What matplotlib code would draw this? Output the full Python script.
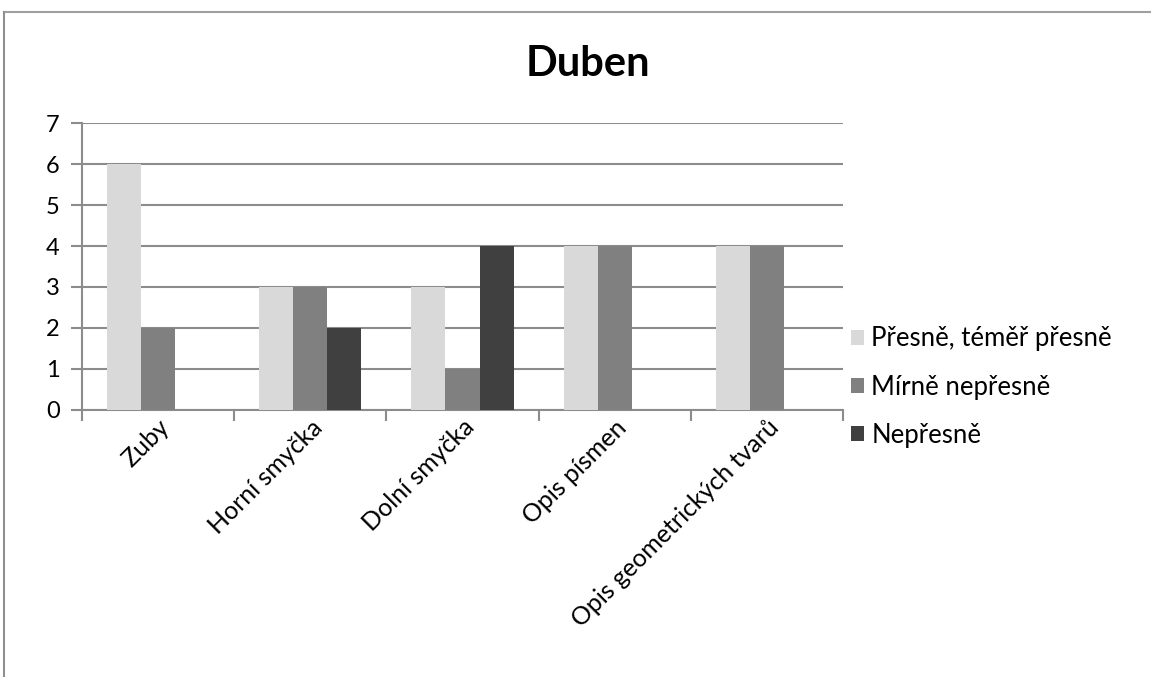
import numpy as np
import matplotlib.pyplot as plt
from matplotlib.lines import Line2D

plt.rcParams['font.family'] = ['Lato', 'DejaVu Sans']

# Data
categories = ['Zuby', 'Horní smyčka', 'Dolní smyčka', 'Opis písmen', 'Opis geometrických tvarů']
series_names = ['Přesně, téměř přesně', 'Mírně nepřesně', 'Nepřesně']
presne = [6, 3, 3, 4, 4]
mirne = [2, 3, 1, 4, 4]
nepresne = [0, 2, 4, 0, 0]
colors = ['#d9d9d9', '#808080', '#404040']

fig = plt.figure(figsize=(11.51, 6.77), dpi=100)
ax = fig.add_axes([0.0712, 0.3944, 0.6612, 0.4239])

x = np.arange(len(categories))
w = 0.224
for i, (vals, name, c) in enumerate(zip([presne, mirne, nepresne], series_names, colors)):
    ax.bar(x + (i - 1) * w, vals, width=w, color=c, label=name, zorder=3)

ax.set_xlim(-0.5, len(categories) - 0.5)
ax.set_ylim(0, 7)
ax.set_yticks(range(8))
ax.yaxis.grid(True, color='#8c8c8c', linewidth=1.5, zorder=0)
ax.tick_params(axis='y', length=8, width=1.5, color='#8c8c8c', labelsize=17, pad=8)

# category boundary ticks
ax.set_xticks(np.arange(-0.5, len(categories)), minor=False)
ax.set_xticklabels([])
ax.set_xticks(x, minor=True)
ax.set_xticklabels(categories, minor=True, rotation=45, ha='right', rotation_mode='anchor', fontsize=18)
ax.tick_params(axis='x', which='major', length=8, width=1.5, color='#8c8c8c')
ax.tick_params(axis='x', which='minor', length=0, pad=4)

for s in ['top', 'right']:
    ax.spines[s].set_visible(False)
for s in ['left', 'bottom']:
    ax.spines[s].set_color('#8c8c8c')
    ax.spines[s].set_linewidth(1.5)

fig.text(0.511, 0.905, 'Duben', ha='center', va='center', fontsize=30, fontweight='bold')

ax.legend(loc='center left', bbox_to_anchor=(0.99, 0.08), frameon=False, fontsize=18.5,
          handlelength=0.5, handleheight=0.5, handletextpad=0.3, labelspacing=0.9,
          borderaxespad=0.2)

# outer frame
fig.add_artist(Line2D([4 / 1151, 1], [1 - 11.5 / 677] * 2, color='#a0a0a0', linewidth=1.5,
                      transform=fig.transFigure))
fig.add_artist(Line2D([4 / 1151] * 2, [0, 1 - 11.5 / 677], color='#909090', linewidth=1.5,
                      transform=fig.transFigure))

plt.savefig('out.png', dpi=100)
